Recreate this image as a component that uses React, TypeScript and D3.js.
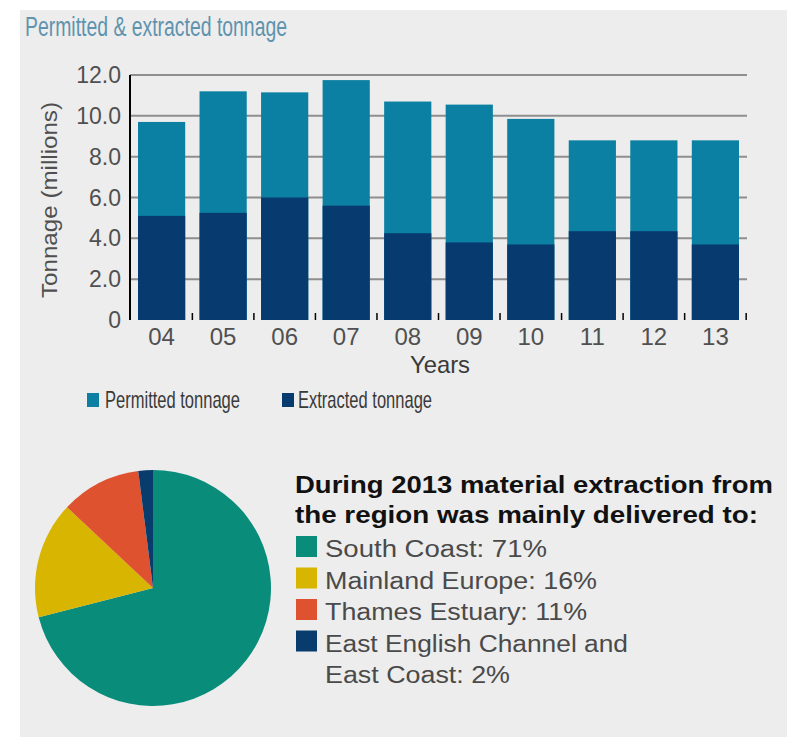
import React from "react";
import * as d3 from "d3";

const years = ["04", "05", "06", "07", "08", "09", "10", "11", "12", "13"];
const permitted = [9.7, 11.2, 11.15, 11.75, 10.7, 10.55, 9.85, 8.8, 8.8, 8.8];
const extracted = [5.1, 5.25, 6.0, 5.6, 4.25, 3.8, 3.7, 4.35, 4.35, 3.7];
const yTicks = [0, 2, 4, 6, 8, 10, 12];
const yTickLabels = ["0", "2.0", "4.0", "6.0", "8.0", "10.0", "12.0"];

const pieLabels = ["South Coast", "Mainland Europe", "Thames Estuary", "East English Channel and East Coast"];
const pieValues = [71, 16, 11, 2];
const pieColors = ["#0a8c7a", "#d8b500", "#df5230", "#083c6c"];
const legendLines = [
  ["South Coast: 71%"],
  ["Mainland Europe: 16%"],
  ["Thames Estuary: 11%"],
  ["East English Channel and", "East Coast: 2%"],
];
const legendWidths = [[222], [272], [262], [303, 185]];

const PERMIT_COLOR = "#0b80a2";
const EXTRACT_COLOR = "#073b70";
const FONT = "'Liberation Sans', Arial, sans-serif";

export default function App() {
  const W = 787, H = 737;
  const x = d3.scaleBand<string>().domain(years).range([130, 747]).paddingInner(0.233).paddingOuter(0.13);
  const y = d3.scaleLinear().domain([0, 12]).range([320, 75]);
  const gap = x.step() - x.bandwidth();

  const pie = d3.pie<number>().sort(null).value((d) => d)(pieValues);
  const arc = d3.arc<d3.PieArcDatum<number>>().innerRadius(0).outerRadius(118);
  const cx = 153, cy = 588;

  let lineY = 557;
  const items: JSX.Element[] = [];
  legendLines.forEach((lines, i) => {
    items.push(
      <rect key={"sq" + i} x={296} y={lineY - 21} width={21} height={21} fill={pieColors[i]} />
    );
    lines.forEach((ln, j) => {
      items.push(
        <text key={"t" + i + "-" + j} x={325} y={lineY} fontSize={23} fill="#4a4a4a"
          textLength={legendWidths[i][j]} lengthAdjust="spacingAndGlyphs">{ln}</text>
      );
      lineY += 31.5;
    });
  });

  return (
    <svg width={W} height={H} style={{ display: "block", position: "absolute", left: 0, top: 0 }} fontFamily={FONT}>
      <rect x={0} y={0} width={W} height={H} fill="#ffffff" />
      <rect x={20} y={10} width={W - 20} height={H - 10} fill="#ededed" />
      <text x={25} y={36} fontSize={27} fill="#5f93ae" textLength={262} lengthAdjust="spacingAndGlyphs">
        Permitted &amp; extracted tonnage
      </text>

      {/* gridlines */}
      {yTicks.filter((t) => t > 0).map((t) => (
        <line key={"g" + t} x1={130} x2={747} y1={y(t)} y2={y(t)} stroke="#8e8e8e" strokeWidth={2} />
      ))}
      {/* bars */}
      {years.map((yr, i) => (
        <g key={yr}>
          <rect x={x(yr)} y={y(permitted[i])} width={x.bandwidth()} height={y(0) - y(permitted[i])} fill={PERMIT_COLOR} />
          <rect x={x(yr)} y={y(extracted[i])} width={x.bandwidth()} height={y(0) - y(extracted[i])} fill={EXTRACT_COLOR} />
        </g>
      ))}
      {/* category ticks */}
      {years.map((yr) => {
        const tx = (x(yr) as number) + x.bandwidth() + gap / 2;
        return <line key={"tk" + yr} x1={tx} x2={tx} y1={313} y2={320} stroke="#000" strokeWidth={1.5} />;
      })}
      {/* y axis */}
      <line x1={130} x2={130} y1={75} y2={320} stroke="#000" strokeWidth={2} />
      {yTicks.map((t, i) => (
        <text key={"yl" + t} x={121} y={y(t) + 8} fontSize={23} fill="#505050" textAnchor="end">
          {yTickLabels[i]}
        </text>
      ))}
      {years.map((yr) => (
        <text key={"xl" + yr} x={(x(yr) as number) + x.bandwidth() / 2} y={345} fontSize={24} fill="#505050" textAnchor="middle">
          {yr}
        </text>
      ))}
      <text x={440} y={373} fontSize={24} fill="#3a3a3a" textAnchor="middle" textLength={60} lengthAdjust="spacingAndGlyphs">Years</text>
      <text transform={`translate(57,200) rotate(-90)`} fontSize={22} fill="#505050" textAnchor="middle"
        textLength={196} lengthAdjust="spacingAndGlyphs">Tonnage (millions)</text>

      {/* bar legend */}
      <rect x={87} y={393} width={12} height={14} fill={PERMIT_COLOR} />
      <text x={105} y={408} fontSize={24} fill="#3a3a3a" textLength={135} lengthAdjust="spacingAndGlyphs">Permitted tonnage</text>
      <rect x={282} y={393} width={12} height={14} fill={EXTRACT_COLOR} />
      <text x={298} y={408} fontSize={24} fill="#3a3a3a" textLength={134} lengthAdjust="spacingAndGlyphs">Extracted tonnage</text>

      {/* pie */}
      <g transform={`translate(${cx},${cy})`}>
        {pie.map((p, i) => (
          <path key={pieLabels[i]} d={arc(p) as string} fill={pieColors[i]} />
        ))}
      </g>

      {/* pie legend */}
      <text x={295} y={493} fontSize={24} fontWeight="bold" fill="#111" textLength={478} lengthAdjust="spacingAndGlyphs">
        During 2013 material extraction from
      </text>
      <text x={295} y={523} fontSize={24} fontWeight="bold" fill="#111" textLength={463} lengthAdjust="spacingAndGlyphs">
        the region was mainly delivered to:
      </text>
      {items}
    </svg>
  );
}
